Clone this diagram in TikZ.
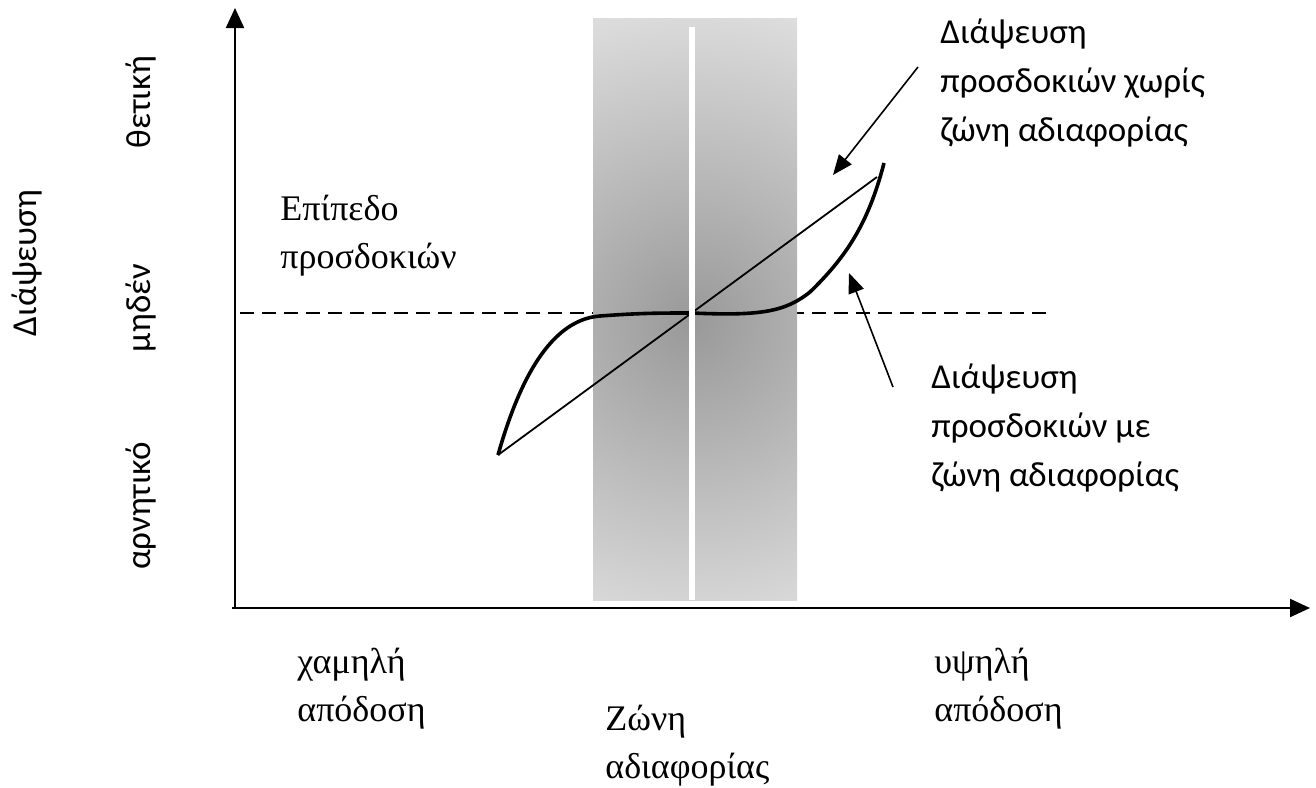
\documentclass[tikz,border=0pt]{standalone}
\usepackage{fontspec}
\setmainfont{Carlito}
\newfontfamily\timesgr{Liberation Serif}
\usetikzlibrary{arrows.meta}

% grey glow of the indifference zone
\pgfdeclareradialshading{zonefade}{\pgfpoint{0bp}{0bp}}{color(0bp)=(black!40); color(25bp)=(black!12); color(50bp)=(black!12)}

\begin{document}
\begin{tikzpicture}[x=0.5pt, y=-0.5pt,
    >={Triangle[length=10pt,width=8pt]},
    sanslabel/.style={font=\fontsize{17.5}{24.5}\selectfont, align=left, inner sep=0pt},
    seriflabel/.style={font=\timesgr\fontsize{18}{24}\selectfont, align=left, inner sep=0pt},
    levellabel/.style={font=\fontsize{17.5}{20}\selectfont, rotate=90, inner sep=0pt}]
    \useasboundingbox (0,0) rectangle (1316,787);

    % --- Define Coordinates and Parameters ---
    \def\zeroLevel{313}   % y of the expectation level
    \def\zoneL{593}       % left edge of the zone
    \def\zoneR{797}       % right edge of the zone
    \coordinate (origin) at (235,608);
    \coordinate (ytip)   at (235,8);
    \coordinate (xtip)   at (1310,608);
    \coordinate (low)    at (498,455);
    \coordinate (mid)    at (692,\zeroLevel);
    \coordinate (high)   at (884,163);
    \coordinate (lineEnd) at (877,177);

    % --- Expectation level (dashed) ---
    \draw[dashed, dash pattern=on 7pt off 4pt, line width=0.8pt] (240,\zeroLevel) -- (1052,\zeroLevel);

    % --- Indifference zone ---
    \begin{scope}
        \clip (\zoneL,18) rectangle (\zoneR,600);
        \shade[shading=zonefade] (692,322) circle[radius=335];
    \end{scope}

    % --- Disconfirmation without zone (thin straight line) ---
    \draw[line width=0.9pt] (low) -- (lineEnd);

    % --- Disconfirmation with zone (thick curve) ---
    \draw[line width=1.8pt, line join=round]
        (low) .. controls (515,395) and (545,320) .. (600,316)
        .. controls (640,313) and (660,313) .. (mid)
        .. controls (760,316) and (785,312) .. (810,292)
        .. controls (845,258) and (868,225) .. (high);

    % white divider in the middle of the zone
    \draw[white, line width=2.6pt] (692,27) -- (692,600);

    % --- Draw Axes ---
    \draw[->, line width=1.1pt, >={Triangle[length=10pt,width=9pt]}] (origin) -- (ytip);
    \draw[->, line width=1.1pt, >={Triangle[length=10pt,width=9pt]}] (232,608) -- (xtip);

    % --- Annotations ---
    \node[sanslabel, anchor=west] (noZone) at (940,83)
        {Διάψευση\\προσδοκιών χωρίς\\ζώνη αδιαφορίας};
    \node[sanslabel, anchor=west] (withZone) at (931,428)
        {Διάψευση\\προσδοκιών με\\ζώνη αδιαφορίας};
    \coordinate (noZoneTail) at (918,67);
    \coordinate (noZoneTip)  at (833,175);
    \coordinate (withZoneTail) at (893,387);
    \coordinate (withZoneTip)  at (849,273);
    \draw[->, line width=0.8pt] (noZoneTail) -- (noZoneTip);
    \draw[->, line width=0.8pt] (withZoneTail) -- (withZoneTip);

    \node[seriflabel, anchor=west] (expLevel) at (280,236) {Επίπεδο\\προσδοκιών};

    % --- Axis labels ---
    \node[levellabel] (yTitle) at (27,263) {Διάψευση};
    \node[levellabel] (posLbl) at (141,102) {θετική};
    \node[levellabel] (zeroLbl) at (141,308) {μηδέν};
    \node[levellabel] (negLbl) at (141,506) {αρνητικό};

    \node[seriflabel, anchor=west] (lowPerf) at (297,689) {χαμηλή\\απόδοση};
    \node[seriflabel, anchor=west] (zoneLbl) at (605,746) {Ζώνη\\αδιαφορίας};
    \node[seriflabel, anchor=west] (highPerf) at (934,689) {υψηλή\\απόδοση};

\end{tikzpicture}
\end{document}
